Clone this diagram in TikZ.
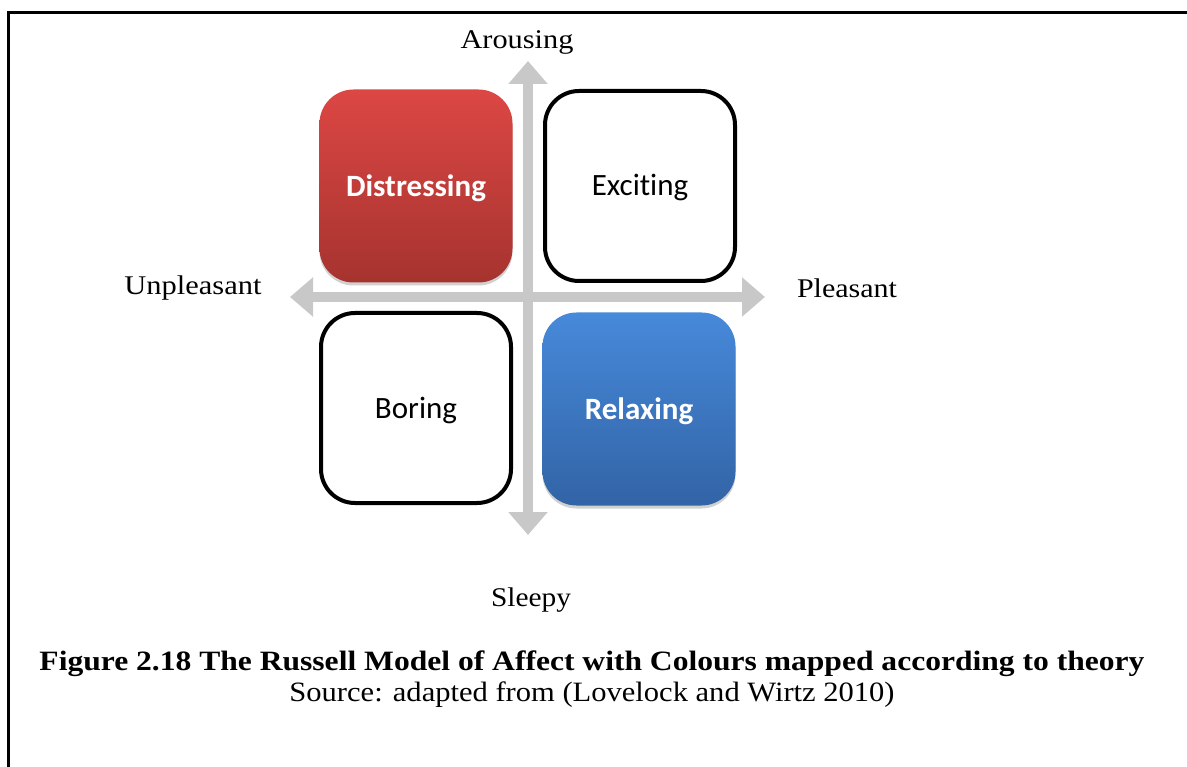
\documentclass[tikz,border=0pt]{standalone}
\usepackage{fontspec}
\usepackage{graphicx}
\setmainfont{Liberation Serif}
\newfontfamily\boxfont[Ligatures={NoCommon}]{Carlito}
\usetikzlibrary{arrows.meta,shadows}

\definecolor{axisgray}{HTML}{C8C8C8}
\definecolor{distTop}{HTML}{DC4744}
\definecolor{distBot}{HTML}{A6332F}
\definecolor{relaxTop}{HTML}{4789DA}
\definecolor{relaxBot}{HTML}{3264A6}

% stretch a text to a given width while keeping its natural height
\newcommand{\fitto}[2]{\resizebox{#1}{\height}{#2}}
% lower a quadrant label a little without changing its box
\newcommand{\quadtext}[1]{\raisebox{-2pt}[\height][\depth]{#1}}

\begin{document}
\begin{tikzpicture}[x=1pt,y=-1pt,
  quad/.style={rounded corners=34pt, minimum width=190pt, minimum height=190pt,
    inner sep=0pt, font=\boxfont\fontsize{31}{36}\selectfont},
  plainquad/.style={quad, draw=black, line width=4pt, fill=white},
  shadedquad/.style={quad, minimum width=193pt, minimum height=193pt, text=white,
    font=\boxfont\bfseries\fontsize{31}{36}\selectfont,
    drop shadow={shadow xshift=0pt, shadow yshift=-3pt, opacity=0.3, fill=black!60}},
  axislabel/.style={font=\fontsize{27}{32}\selectfont, inner sep=0pt},
  axis/.style={draw=axisgray, line width=10pt,
    {Triangle[width=38pt,length=23pt]}-{Triangle[width=38pt,length=23pt]}}
]
\useasboundingbox (0,0) rectangle (1187,767);

% page frame (left and top rules)
\draw[line width=3pt, line join=miter] (8.5,767) -- (8.5,12.5) -- (1187,12.5);

% axes
\coordinate (top)    at (528,61);
\coordinate (bottom) at (528,535);
\coordinate (left)   at (290,297);
\coordinate (right)  at (765,297);
\draw[axis] (bottom) -- (top);
\draw[axis] (left) -- (right);

% quadrants
\node[shadedquad, top color=distTop, bottom color=distBot] (distressing) at (416,186) {\quadtext{Distressing}};
\node[plainquad] (exciting) at (640,186) {\quadtext{Exciting}};
\node[plainquad] (boring) at (416,408) {\quadtext{Boring}};
\node[shadedquad, top color=relaxTop, bottom color=relaxBot] (relaxing) at (639,409) {\quadtext{Relaxing}};

% axis labels
\node[axislabel] (arousing) at (517,42) {\fitto{113pt}{Arousing}};
\node[axislabel] (unpleasant) at (193,288) {\fitto{137pt}{Unpleasant}};
\node[axislabel] (pleasant) at (847,288) {\fitto{100pt}{Pleasant}};
\node[axislabel] (sleepy) at (531,600) {\fitto{80pt}{Sleepy}};

% caption
\node[inner sep=0pt, font=\bfseries\fontsize{28}{32}\selectfont] (caption) at (592,664)
  {\fitto{1105pt}{Figure 2.18 The Russell Model of Affect with Colours mapped according to theory}};
\node[inner sep=0pt, font=\fontsize{28}{32}\selectfont] (source) at (592,695)
  {\fitto{605pt}{Source: adapted from (Lovelock and Wirtz 2010)}};
\end{tikzpicture}
\end{document}
